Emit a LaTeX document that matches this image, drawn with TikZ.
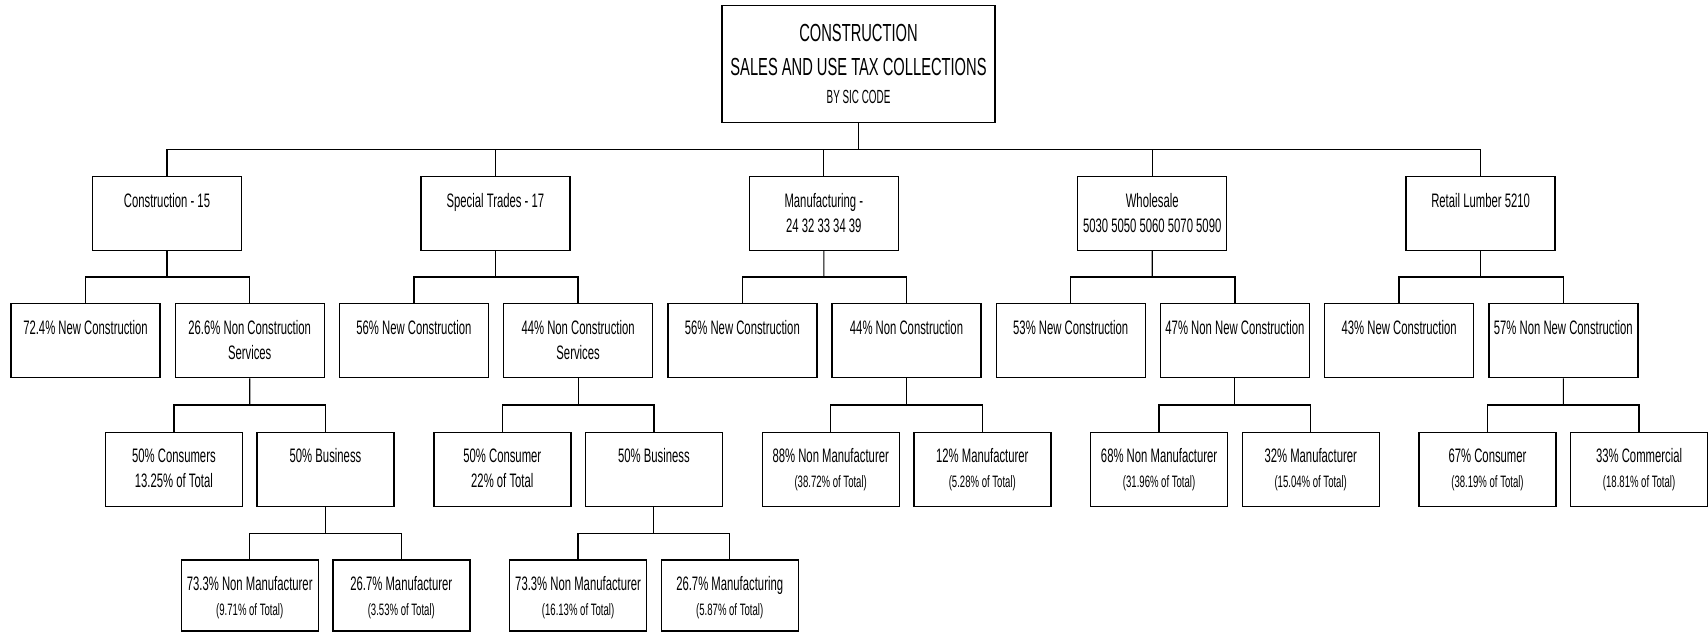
\documentclass[tikz,border=0pt]{standalone}
\usepackage{fontspec}
\setmainfont{Liberation Sans}[FakeStretch=0.58]
\newfontfamily\titlefont{Liberation Sans}[FakeStretch=0.595]
\newfontfamily\sicfont{Liberation Sans}[FakeStretch=0.52]
\usepackage{tikz}
\usetikzlibrary{calc}

\newcommand{\bigcell}[1]{\parbox[c][74pt][t]{149pt}{\centering\rule{0pt}{31pt}#1}}
\newcommand{\smallcell}[2][74pt]{\parbox[c][#1][t]{137pt}{\centering\rule{0pt}{30pt}#2}}
\newcommand{\tot}[1]{{\fontsize{16.5}{25}\selectfont #1}}

\begin{document}
\begin{tikzpicture}[x=1pt, y=-1pt, font=\fontsize{19.5}{25}\selectfont,
    box/.style={draw, line width=1.4pt, inner sep=0pt, anchor=north},
    bus/.style={line width=1.5pt},
    drop/.style={line width=1.1pt}]

    \useasboundingbox (0,0) rectangle (1708,633);

    % title
    \node[box] (top) at (858.5,5) {\parbox[c][117pt][t]{273pt}{\centering\titlefont\fontsize{24.7}{34.5}\selectfont
        \rule{0pt}{35.5pt}CONSTRUCTION\\ SALES AND USE TAX COLLECTIONS\\[-6.5pt]
        {\sicfont\fontsize{19}{20}\selectfont BY SIC CODE}}};

    % SIC groups
    \node[box] (con) at (167,175.5) {\bigcell{Construction - 15}};
    \node[box] (spec) at (495.4,175.5) {\bigcell{Special Trades - 17}};
    \node[box] (manu) at (823.8,175.5) {\bigcell{Manufacturing -\\ 24 32 33 34 39}};
    \node[box] (whole) at (1152.2,175.5) {\bigcell{Wholesale\\ 5030 5050 5060 5070 5090}};
    \node[box] (retail) at (1480.6,175.5) {\bigcell{Retail Lumber 5210}};

    % new / non new
    \node[box] (conNew) at (85.5,303) {\bigcell{72.4\% New Construction}};
    \node[box] (conNon) at (249.7,303) {\bigcell{26.6\% Non Construction\\ Services}};
    \node[box] (specNew) at (413.9,303) {\bigcell{56\% New Construction}};
    \node[box] (specNon) at (578.1,303) {\bigcell{44\% Non Construction\\ Services}};
    \node[box] (manuNew) at (742.3,303) {\bigcell{56\% New Construction}};
    \node[box] (manuNon) at (906.5,303) {\bigcell{44\% Non Construction}};
    \node[box] (wholeNew) at (1070.7,303) {\bigcell{53\% New Construction}};
    \node[box] (wholeNon) at (1234.9,303) {\bigcell{47\% Non New Construction}};
    \node[box] (retNew) at (1399.1,303) {\bigcell{43\% New Construction}};
    \node[box] (retNon) at (1563.3,303) {\bigcell{57\% Non New Construction}};

    % third row
    \node[box] (conCons) at (173.9,432) {\smallcell{50\% Consumers\\ 13.25\% of Total}};
    \node[box] (conBus) at (325.5,432) {\smallcell{50\% Business}};
    \node[box] (specCons) at (502.3,432) {\smallcell{50\% Consumer\\ 22\% of Total}};
    \node[box] (specBus) at (653.9,432) {\smallcell{50\% Business}};
    \node[box] (manuNonM) at (830.7,432) {\smallcell{88\% Non Manufacturer\\ \tot{(38.72\% of Total)}}};
    \node[box] (manuM) at (982.3,432) {\smallcell{12\% Manufacturer\\ \tot{(5.28\% of Total)}}};
    \node[box] (wholeNonM) at (1159.1,432) {\smallcell{68\% Non Manufacturer\\ \tot{(31.96\% of Total)}}};
    \node[box] (wholeM) at (1310.7,432) {\smallcell{32\% Manufacturer\\ \tot{(15.04\% of Total)}}};
    \node[box] (retCons) at (1487.5,432) {\smallcell{67\% Consumer\\ \tot{(38.19\% of Total)}}};
    \node[box] (retComm) at (1639.1,432) {\smallcell{33\% Commercial\\ \tot{(18.81\% of Total)}}};

    % business split
    \node[box] (conBusNonM) at (249.7,559.3) {\smallcell[71pt]{73.3\% Non Manufacturer\\ \tot{(9.71\% of Total)}}};
    \node[box] (conBusM) at (401.3,559.3) {\smallcell[71pt]{26.7\% Manufacturer\\ \tot{(3.53\% of Total)}}};
    \node[box] (specBusNonM) at (578.1,559.3) {\smallcell[71pt]{73.3\% Non Manufacturer\\ \tot{(16.13\% of Total)}}};
    \node[box] (specBusM) at (729.7,559.3) {\smallcell[71pt]{26.7\% Manufacturing\\ \tot{(5.87\% of Total)}}};

    % joints on the buses
    \coordinate (topJ) at ($(top.south)!.5!(top.south |- con.north)$);
    \coordinate (conJ) at ($(con.south)!.5!(con.south |- conNew.north)$);
    \coordinate (specJ) at ($(spec.south)!.5!(spec.south |- specNew.north)$);
    \coordinate (manuJ) at ($(manu.south)!.5!(manu.south |- manuNew.north)$);
    \coordinate (wholeJ) at ($(whole.south)!.5!(whole.south |- wholeNew.north)$);
    \coordinate (retailJ) at ($(retail.south)!.5!(retail.south |- retNew.north)$);
    \coordinate (conNonJ) at ($(conNon.south)!.5!(conNon.south |- conCons.north)$);
    \coordinate (specNonJ) at ($(specNon.south)!.5!(specNon.south |- specCons.north)$);
    \coordinate (manuNonJ) at ($(manuNon.south)!.5!(manuNon.south |- manuNonM.north)$);
    \coordinate (wholeNonJ) at ($(wholeNon.south)!.5!(wholeNon.south |- wholeNonM.north)$);
    \coordinate (retNonJ) at ($(retNon.south)!.5!(retNon.south |- retCons.north)$);
    \coordinate (conBusJ) at ($(conBus.south)!.5!(conBus.south |- conBusNonM.north)$);
    \coordinate (specBusJ) at ($(specBus.south)!.5!(specBus.south |- specBusNonM.north)$);

    % connectors
    \draw[drop] (top.south) -- (topJ);
    \draw[bus] (con.north) |- (topJ) -| (retail.north);
    \draw[drop] (spec.north) -- (spec.north |- topJ);
    \draw[drop] (manu.north) -- (manu.north |- topJ);
    \draw[drop] (whole.north) -- (whole.north |- topJ);

    \draw[drop] (con.south) -- (conJ);
    \draw[bus] (conNew.north) |- (conJ) -| (conNon.north);
    \draw[drop] (spec.south) -- (specJ);
    \draw[bus] (specNew.north) |- (specJ) -| (specNon.north);
    \draw[drop] (manu.south) -- (manuJ);
    \draw[bus] (manuNew.north) |- (manuJ) -| (manuNon.north);
    \draw[drop] (whole.south) -- (wholeJ);
    \draw[bus] (wholeNew.north) |- (wholeJ) -| (wholeNon.north);
    \draw[drop] (retail.south) -- (retailJ);
    \draw[bus] (retNew.north) |- (retailJ) -| (retNon.north);

    \draw[drop] (conNon.south) -- (conNonJ);
    \draw[bus] (conCons.north) |- (conNonJ) -| (conBus.north);
    \draw[drop] (specNon.south) -- (specNonJ);
    \draw[bus] (specCons.north) |- (specNonJ) -| (specBus.north);
    \draw[drop] (manuNon.south) -- (manuNonJ);
    \draw[bus] (manuNonM.north) |- (manuNonJ) -| (manuM.north);
    \draw[drop] (wholeNon.south) -- (wholeNonJ);
    \draw[bus] (wholeNonM.north) |- (wholeNonJ) -| (wholeM.north);
    \draw[drop] (retNon.south) -- (retNonJ);
    \draw[bus] (retCons.north) |- (retNonJ) -| (retComm.north);

    \draw[drop] (conBus.south) -- (conBusJ);
    \draw[bus] (conBusNonM.north) |- (conBusJ) -| (conBusM.north);
    \draw[drop] (specBus.south) -- (specBusJ);
    \draw[bus] (specBusNonM.north) |- (specBusJ) -| (specBusM.north);

\end{tikzpicture}
\end{document}
